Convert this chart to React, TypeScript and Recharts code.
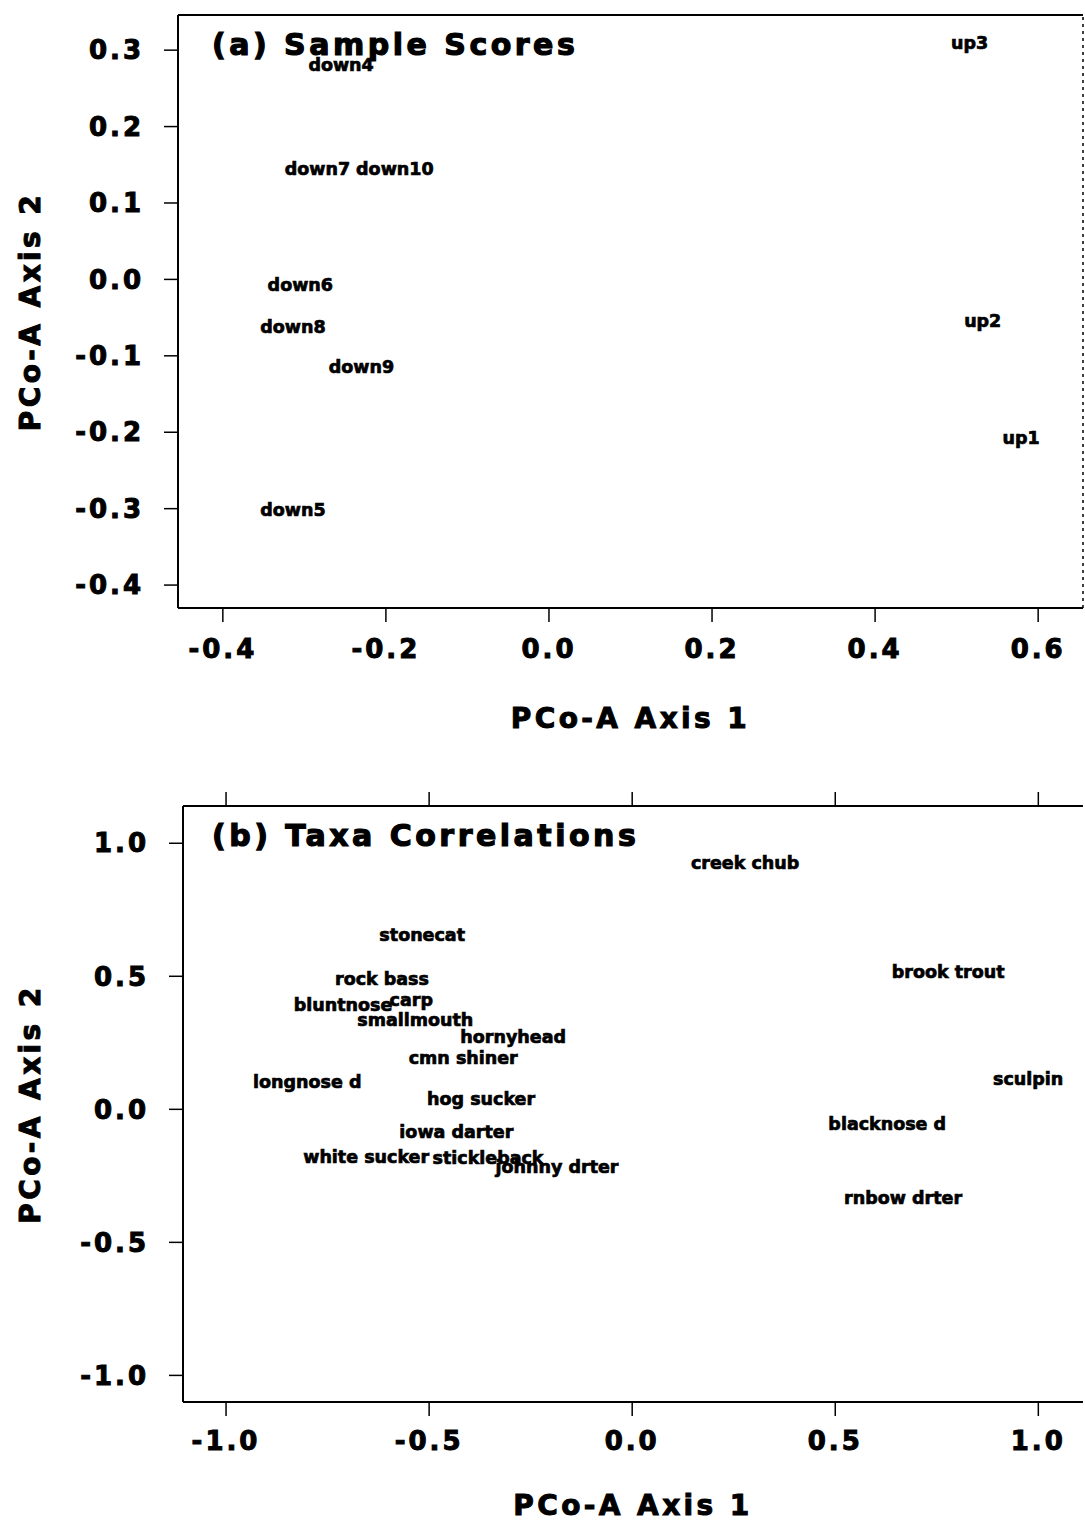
import { ScatterChart, Scatter, XAxis, YAxis, ReferenceLine } from 'recharts';

// (a) sample scores
const sampleNames = ['up3', 'down4', 'down7', 'down10', 'down6', 'down8', 'up2', 'down9', 'up1', 'down5'];
const sampleAxis1 = [0.516, -0.255, -0.284, -0.189, -0.305, -0.314, 0.532, -0.23, 0.579, -0.314];
const sampleAxis2 = [0.309, 0.281, 0.144, 0.144, -0.007, -0.062, -0.054, -0.114, -0.208, -0.302];

// (b) taxa correlations
const taxaNames = [
  'creek chub', 'stonecat', 'rock bass', 'brook trout', 'bluntnose', 'carp', 'smallmouth',
  'hornyhead', 'cmn shiner', 'longnose d', 'sculpin', 'hog sucker', 'blacknose d',
  'iowa darter', 'white sucker', 'stickleback', 'johnny drter', 'rnbow drter',
];
const taxaAxis1 = [0.278, -0.517, -0.616, 0.778, -0.712, -0.544, -0.534, -0.293, -0.416, -0.8, 0.975, -0.372, 0.628, -0.433, -0.655, -0.355, -0.185, 0.667];
const taxaAxis2 = [0.925, 0.654, 0.489, 0.515, 0.391, 0.41, 0.338, 0.271, 0.195, 0.105, 0.113, 0.038, -0.056, -0.086, -0.177, -0.184, -0.218, -0.331];

const xTicksA = [-0.4, -0.2, 0, 0.2, 0.4, 0.6];
const yTicksA = [-0.4, -0.3, -0.2, -0.1, 0, 0.1, 0.2, 0.3];
const xTicksB = [-1, -0.5, 0, 0.5, 1];
const yTicksB = [-1, -0.5, 0, 0.5, 1];

const xDomainA = [-0.455, 0.655];
const yDomainA = [-0.43, 0.346];
const xDomainB = [-1.106, 1.11];
const yDomainB = [-1.1, 1.14];

const FONT = '"DejaVu Sans", sans-serif';
const fmt = (v: number) => v.toFixed(1);

// heavy scanned look: bold text with a thin outline
const tickStyle = { fill: '#000', stroke: '#000', strokeWidth: 1, fontSize: 26, fontWeight: 'bold', fontFamily: FONT, letterSpacing: 3 };
const titleStyle = { fill: '#000', stroke: '#000', strokeWidth: 1, fontSize: 28, fontWeight: 'bold', fontFamily: FONT, letterSpacing: 3.4 };
const line = { stroke: '#000', strokeWidth: 2 };
const tickLine = { stroke: '#000', strokeWidth: 1.5 };

const build = (names: string[], xs: number[], ys: number[]) =>
  names.map((name, i) => ({ name, x: xs[i], y: ys[i] }));

const TextMark = (props: any) => {
  const { cx, cy, payload } = props;
  return (
    <text x={cx} y={cy} dy="0.35em" textAnchor="middle" fontFamily={FONT} fontWeight="bold" fontSize={17.5}
      fill="#000" stroke="#000" strokeWidth={0.7}>
      {payload.name}
    </text>
  );
};

const Empty = () => <g />;

const Panel = ({ data, xDomain, yDomain, xTicks, yTicks, title, titleY, height, margin, xHeight, yWidth, topTicks, topHeight, xTickMargin, xLabelOffset, rightLine }: any) => (
  <ScatterChart width={1085} height={height} margin={margin}>
    <XAxis
      type="number"
      dataKey="x"
      domain={xDomain}
      ticks={xTicks}
      allowDataOverflow
      tickFormatter={fmt}
      tickSize={14}
      tickMargin={xTickMargin}
      height={xHeight}
      axisLine={line}
      tickLine={tickLine}
      tick={tickStyle}
      label={{ value: 'PCo-A Axis 1', position: 'insideBottom', offset: xLabelOffset, style: titleStyle }}
    />
    <XAxis
      xAxisId="top"
      orientation="top"
      type="number"
      dataKey="x"
      domain={xDomain}
      ticks={xTicks}
      allowDataOverflow
      height={topHeight}
      tick={<Empty />}
      tickSize={14}
      tickLine={topTicks ? tickLine : false}
      axisLine={line}
    />
    <YAxis
      type="number"
      dataKey="y"
      domain={yDomain}
      ticks={yTicks}
      allowDataOverflow
      tickFormatter={fmt}
      tickSize={14}
      tickMargin={20}
      width={yWidth}
      axisLine={line}
      tickLine={tickLine}
      tick={tickStyle}
      label={{ value: 'PCo-A Axis 2', position: 'insideLeft', angle: -90, offset: 30, style: { ...titleStyle, textAnchor: 'middle' } }}
    />
    {rightLine && <ReferenceLine x={xDomain[1]} stroke="#000" strokeWidth={1.5} strokeDasharray="3 4" />}
    {/* invisible copy bound to the top frame axis so that it gets a scale */}
    <Scatter data={data} xAxisId="top" shape={<Empty />} isAnimationActive={false} />
    <Scatter data={data} shape={<TextMark />} isAnimationActive={false} />
    <text x={212} y={titleY} fontFamily={FONT} fontWeight="bold" fontSize={30} letterSpacing={3.5}
      fill="#000" stroke="#000" strokeWidth={1.2}>
      {title}
    </text>
  </ScatterChart>
);

export default function App() {
  const sampleData = build(sampleNames, sampleAxis1, sampleAxis2);
  const taxaData = build(taxaNames, taxaAxis1, taxaAxis2);
  return (
    <div style={{ position: 'absolute', left: 0, top: 0, width: 1085, height: 1524, background: '#fff', fontFamily: FONT }}>
      <Panel
        data={sampleData}
        xDomain={xDomainA}
        yDomain={yDomainA}
        xTicks={xTicksA}
        yTicks={yTicksA}
        title="(a) Sample Scores"
        titleY={55}
        height={760}
        margin={{ top: 5, right: 2, left: 0, bottom: 0 }}
        topHeight={10}
        topTicks={false}
        xHeight={152}
        yWidth={178}
        xTickMargin={18}
        xLabelOffset={32}
        rightLine
      />
      <Panel
        data={taxaData}
        xDomain={xDomainB}
        yDomain={yDomainB}
        xTicks={xTicksB}
        yTicks={yTicksB}
        title="(b) Taxa Correlations"
        titleY={86}
        height={764}
        margin={{ top: 26, right: 2, left: 0, bottom: 0 }}
        topHeight={20}
        topTicks
        xHeight={122}
        yWidth={183}
        xTickMargin={16}
        xLabelOffset={9}
        rightLine={false}
      />
    </div>
  );
}
